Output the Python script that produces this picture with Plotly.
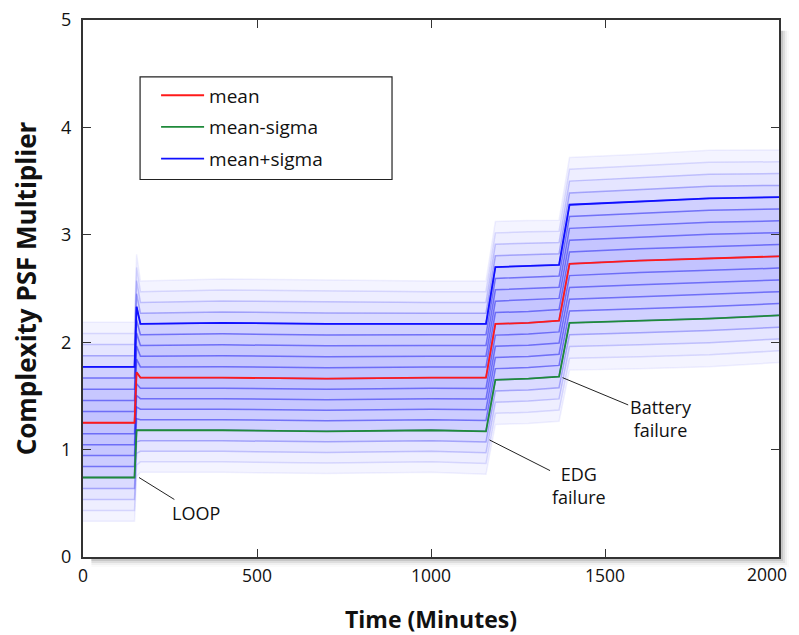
import plotly.graph_objects as go

# ---- data ----
time_min = [0, 148, 154, 165, 400, 700, 1000, 1158, 1185, 1280, 1368, 1398, 1600, 1800, 2000]
mean_vals = [1.25, 1.25, 1.72, 1.67, 1.67, 1.66, 1.67, 1.67, 2.17, 2.18, 2.20, 2.73, 2.76, 2.78, 2.80]
upper_vals = [1.77, 1.77, 2.33, 2.17, 2.18, 2.17, 2.17, 2.17, 2.70, 2.71, 2.72, 3.28, 3.31, 3.34, 3.35]
lower_vals = [0.74, 0.74, 1.18, 1.18, 1.18, 1.17, 1.18, 1.17, 1.65, 1.66, 1.68, 2.18, 2.20, 2.22, 2.25]

# fan of quantile lines, in units of sigma around the mean
fan_z = [-1.8, -1.6, -1.4, -1.2, -1.0, -0.8, -0.6, -0.4, -0.2, 0.0,
         0.2, 0.4, 0.6, 0.8, 1.0, 1.2, 1.4, 1.6, 1.8]
fan_line_alpha = [0.06, 0.12, 0.2, 0.3, 0.45, 0.5, 0.5, 0.5, 0.5, 0.5,
                  0.5, 0.5, 0.5, 0.5, 0.45, 0.3, 0.2, 0.12, 0.06]
band_alpha = [0.05, 0.08, 0.12, 0.17, 0.22, 0.24, 0.26, 0.27, 0.28,
              0.28, 0.27, 0.26, 0.24, 0.22, 0.17, 0.12, 0.08, 0.05]

x_ticks = [0, 500, 1000, 1500, 2000]
x_tick_text = ["0", "500", "1000", "1500", ""]   # last label drawn as annotation (kept inside page)
x_last_label = "2000"
y_ticks = [0, 1, 2, 3, 4, 5]

annotations_data = [
    # text, head x, head y, text x, text y
    ("LOOP", 161, 0.74, 325, 0.41),
    ("EDG<br>failure", 1168, 1.09, 1424, 0.67),
    ("Battery<br>failure", 1378, 1.67, 1660, 1.29),
]

FONT = "Open Sans"

fig = go.Figure()


def fan_line(z):
    out = []
    for m, u, l in zip(mean_vals, upper_vals, lower_vals):
        s = (u - m) if z >= 0 else (m - l)
        out.append(m + z * s)
    return out


for i, z in enumerate(fan_z):
    kw = dict(fill="tonexty", fillcolor=f"rgba(40,40,255,{band_alpha[i-1]})") if i > 0 else {}
    fig.add_trace(go.Scatter(
        x=time_min, y=fan_line(z), mode="lines",
        line=dict(color=f"rgba(20,20,240,{fan_line_alpha[i]})", width=1.5),
        showlegend=False, hoverinfo="skip", **kw))

fig.add_trace(go.Scatter(x=time_min, y=lower_vals, mode="lines", name="mean-sigma",
                         legendgroup="b", line=dict(color="#1f8a3a", width=1.8), legendrank=2))
fig.add_trace(go.Scatter(x=time_min, y=upper_vals, mode="lines", name="mean+sigma",
                         legendgroup="c", line=dict(color="#1010ff", width=1.8), legendrank=3))
fig.add_trace(go.Scatter(x=time_min, y=mean_vals, mode="lines", name="mean",
                         legendgroup="a", line=dict(color="#ff1a1a", width=1.8), legendrank=1))

for text, hx, hy, tx, ty in annotations_data:
    fig.add_annotation(x=hx, y=hy, ax=tx, ay=ty, axref="x", ayref="y",
                       text=text, showarrow=True, arrowhead=0, arrowwidth=1,
                       arrowcolor="#222", standoff=0,
                       font=dict(family=FONT, size=18, color="#111"))

fig.add_annotation(x=x_ticks[-1], y=0, xref="x", yref="paper", text=x_last_label,
                   showarrow=False, xanchor="right", yanchor="top", xshift=10, yshift=-3,
                   font=dict(family=FONT, size=17.5, color="#111"))

shapes = []
# soft drop shadow outside the frame (right and bottom strips)
for k, a in enumerate([0.16, 0.11, 0.07, 0.04, 0.02]):
    dx = 0.0029 * (k + 1)
    dy = 0.0037 * (k + 1)
    shapes.append(dict(type="rect", xref="paper", yref="paper",
                       x0=1.0, x1=1.0 + dx, y0=-dy, y1=1.0 - 0.02,
                       fillcolor=f"rgba(0,0,0,{a})", line=dict(width=0), layer="below"))
    shapes.append(dict(type="rect", xref="paper", yref="paper",
                       x0=0.012, x1=1.0, y0=-dy, y1=0.0,
                       fillcolor=f"rgba(0,0,0,{a})", line=dict(width=0), layer="below"))
# legend box
shapes.append(dict(type="rect", xref="paper", yref="paper",
                   x0=0.082, x1=0.444, y0=0.703, y1=0.894,
                   fillcolor="white", line=dict(color="#222", width=1.2), layer="above"))
fig.update_layout(shapes=shapes)

# the page adds an 8px body margin, so the figure is 8px smaller and margins shifted
fig.update_layout(
    width=791, height=627,
    margin=dict(l=75, r=20, t=12, b=78),
    paper_bgcolor="white", plot_bgcolor="white",
    font=dict(family=FONT, size=18, color="#111"),
    legend=dict(x=0.105, y=0.895, xanchor="left", yanchor="top",
                bgcolor="rgba(0,0,0,0)", borderwidth=0,
                font=dict(family=FONT, size=19, color="#111"),
                traceorder="grouped", tracegroupgap=4, itemwidth=43),
    xaxis=dict(range=[0, 2000], tickvals=x_ticks, ticktext=x_tick_text,
               ticks="inside", ticklen=8,
               tickcolor="#333", showline=True, linecolor="#333", linewidth=2,
               mirror="allticks", showgrid=False, zeroline=False, automargin=False,
               ticklabeloverflow="allow", ticklabelstandoff=2,
               tickfont=dict(size=17.5),
               title=dict(text="<b>Time (Minutes)</b>", font=dict(size=23), standoff=31)),
    yaxis=dict(range=[0, 5], tickvals=y_ticks, ticks="inside", ticklen=8,
               tickcolor="#333", showline=True, linecolor="#333", linewidth=2,
               mirror="allticks", showgrid=False, zeroline=False, automargin=False,
               ticklabeloverflow="allow", ticklabelstandoff=6,
               title=dict(text="<b>Complexity PSF Multiplier</b>", font=dict(size=26), standoff=27)),
)

fig.write_html("out.html")
